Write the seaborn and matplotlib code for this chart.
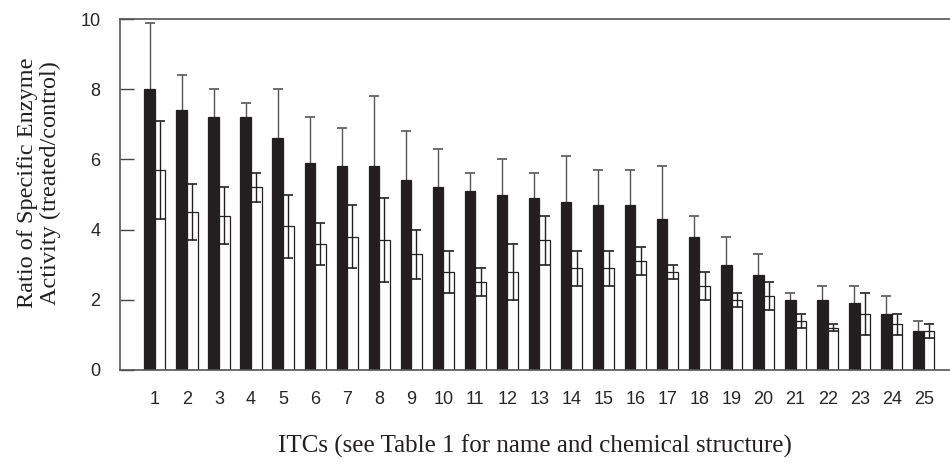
import matplotlib
matplotlib.use("Agg")
import matplotlib.pyplot as plt
import seaborn as sns
import pandas as pd
import numpy as np

itcs = [str(i) for i in range(1, 26)]
black_vals = [8.0, 7.4, 7.2, 7.2, 6.6, 5.9, 5.8, 5.8, 5.4, 5.2, 5.1, 5.0, 4.9,
              4.8, 4.7, 4.7, 4.3, 3.8, 3.0, 2.7, 2.0, 2.0, 1.9, 1.6, 1.1]
black_err = [1.9, 1.0, 0.8, 0.4, 1.4, 1.3, 1.1, 2.0, 1.4, 1.1, 0.5, 1.0, 0.7,
             1.3, 1.0, 1.0, 1.5, 0.6, 0.8, 0.6, 0.2, 0.4, 0.5, 0.5, 0.3]
white_vals = [5.7, 4.5, 4.4, 5.2, 4.1, 3.6, 3.8, 3.7, 3.3, 2.8, 2.5, 2.8, 3.7,
              2.9, 2.9, 3.1, 2.8, 2.4, 2.0, 2.1, 1.4, 1.2, 1.6, 1.3, 1.1]
white_err = [1.4, 0.8, 0.8, 0.4, 0.9, 0.6, 0.9, 1.2, 0.7, 0.6, 0.4, 0.8, 0.7,
             0.5, 0.5, 0.4, 0.2, 0.4, 0.2, 0.4, 0.2, 0.1, 0.6, 0.3, 0.2]
series = ["A", "B"]
yticks = [0, 2, 4, 6, 8, 10]

df = pd.DataFrame({
    "itc": itcs * 2,
    "series": [series[0]] * 25 + [series[1]] * 25,
    "value": black_vals + white_vals,
})

sns.set_style("white")
fig = plt.figure(figsize=(9.5, 4.66), dpi=100)
ax = fig.add_axes([120 / 950, (466 - 370) / 466, 830 / 950, 351 / 466])

sns.barplot(data=df, x="itc", y="value", hue="series", order=itcs,
            hue_order=series, palette=["#231f20", "#ffffff"], width=0.66,
            edgecolor="#231f20", linewidth=0.9, legend=False, ax=ax,
            errorbar=None, saturation=1)

patches = [p for p in ax.patches]
for p in patches:
    p.set_zorder(2)
nb = len(itcs)
black_patches = patches[:nb]
white_patches = patches[nb:2 * nb]
bx = [p.get_x() + p.get_width() / 2 for p in black_patches]
wx = [p.get_x() + p.get_width() / 2 for p in white_patches]
eb1 = ax.errorbar(bx, black_vals, yerr=black_err, fmt="none", ecolor="#555555",
                  elinewidth=1.0, capsize=3.5, capthick=1.2)
eb2 = ax.errorbar(wx, white_vals, yerr=white_err, fmt="none", ecolor="#231f20",
                  elinewidth=1.0, capsize=3.5, capthick=1.2)
for art in list(eb1.lines[1]) + list(eb1.lines[2]):
    art.set_zorder(1)
for art in eb1.lines[1]:
    art.set_color("#231f20")
for art in list(eb2.lines[1]) + list(eb2.lines[2]):
    art.set_zorder(3)

ax.set_ylim(0, 10)
ax.set_xlim(-1.09, 24.82)
ax.set_yticks(yticks)
ax.set_yticklabels([str(t) for t in yticks], fontsize=13,
                   family=["Liberation Sans", "DejaVu Sans"])
ax.set_xticklabels(itcs, fontsize=13, family=["Liberation Sans", "DejaVu Sans"])
ax.tick_params(axis="y", direction="in", length=10, width=1, color="#444444",
               pad=14, left=True)
ax.tick_params(axis="x", length=0, pad=15)

for s in ["left", "bottom", "top"]:
    ax.spines[s].set_visible(True)
    ax.spines[s].set_color("#555555")
    ax.spines[s].set_linewidth(1.2)
ax.spines["right"].set_visible(False)

ax.set_xlabel("ITCs (see Table 1 for name and chemical structure)",
              fontsize=18, family=["Liberation Serif", "DejaVu Serif"],
              labelpad=19, color="#231f20")
ax.set_ylabel("Ratio of Specific Enzyme\nActivity (treated/control)",
              fontsize=17.5, family=["Liberation Serif", "DejaVu Serif"],
              color="#231f20", linespacing=1.15)
ax.yaxis.set_label_coords(-0.0705, 0.533)

fig.savefig("out.png", dpi=100)
